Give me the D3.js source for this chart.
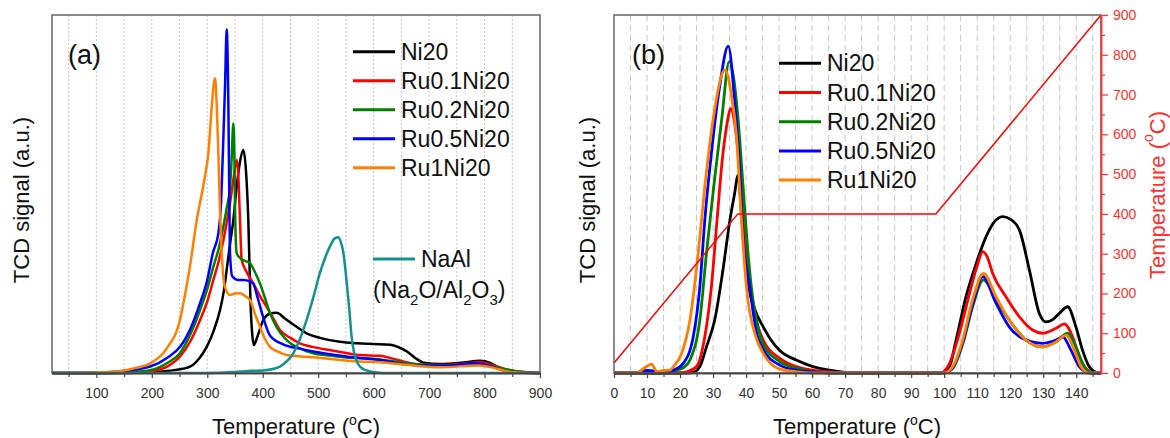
<!DOCTYPE html>
<html>
<head>
<meta charset="utf-8">
<script src="https://cdn.jsdelivr.net/npm/d3@7"></script>
<style>
  body { margin: 0; background: #fff; }
  text { font-family: "Liberation Sans", Arial, sans-serif; }
</style>
</head>
<body>
<script>
// ---- data ----
let seriesNames = ["Ni20", "Ru0.1Ni20", "Ru0.2Ni20", "Ru0.5Ni20", "Ru1Ni20"];
let naAlName = "NaAl";

// panel (a): [temperature degC, TCD signal a.u.]
let ni20A = [[20,0],[150,0],[200,0.3],[240,0.8],[269,1.8],[285,4],[299,7.3],[312,12],[323,17.6],[330,23],[335,28.8],[341,36],[347,42.7],[353,52],[359,59],[365,62.3],[370,56],[374,42.7],[378,19.5],[381,11],[384,7.8],[390,10],[401,14.8],[412,16.5],[425,16.8],[440,15.2],[461,12.9],[480,11],[503,9.8],[539,8.7],[570,8.3],[599,8.1],[630,7.9],[645,7.2],[660,6],[675,4.2],[690,2.9],[720,2.5],[762,2.9],[792,3.4],[810,2.8],[822,1.8],[851,0.5],[880,0.1],[900,0]];
let ru01A = [[20,0],[120,0],[160,0.2],[197,0.5],[230,2],[251,4.6],[270,9],[287,14.8],[300,20],[311,26],[321,31.5],[329,37],[335,42],[341,47.4],[347,54],[353,59.5],[356,55],[359,42.7],[362,31.6],[370,28.5],[383,25],[395,21.5],[407,18.5],[420,15],[431,12],[450,9.8],[467,8.3],[490,7.3],[521,6.4],[550,5.6],[575,5],[611,4.8],[640,3.8],[671,2.6],[696,2.2],[730,2.2],[760,2.6],[792,3.0],[815,2.2],[840,1],[870,0.3],[900,0]];
let ru02A = [[20,0],[120,0],[160,0.3],[197,0.8],[230,3],[251,5.6],[270,11],[287,17.6],[300,23.5],[311,29.7],[321,35],[329,40.9],[335,46],[341,52],[344,60],[347,69.7],[349,60],[350,47],[353,33.5],[360,32],[370,31.2],[377,30.7],[385,28.5],[395,25],[405,20.5],[413,16.8],[425,12.8],[443,9.2],[465,7],[491,5.5],[530,4.7],[575,4.1],[599,4.0],[630,3.4],[660,2.7],[700,2.2],[740,2.1],[792,2.5],[815,1.8],[840,1],[870,0.3],[900,0]];
let ru05A = [[20,0],[100,0],[150,0.6],[197,1.8],[230,4.5],[251,7.3],[270,12.5],[287,19.5],[300,26],[310,33.5],[320,39],[325,48],[328,61],[332,80],[335,96],[338,75],[340,45],[341,33.5],[345,27],[355,26],[365,26],[377,25.6],[383,25],[390,21.5],[400,16],[413,10.5],[437,8],[467,6.8],[491,6],[551,4.6],[611,3.6],[671,2.2],[732,2.0],[780,2.7],[804,2.2],[840,0.5],[870,0.1],[900,0]];
let ru1A = [[20,0],[80,0],[120,0.3],[142,0.5],[167,1.3],[197,2.7],[227,6.9],[251,15],[260,22],[269,30],[281,42.7],[290,50],[297,56],[302,61.4],[308,74.4],[314,82.3],[317,75],[320,61.4],[323,45],[326,33.5],[332,24],[341,21.8],[350,22.2],[359,22.3],[368,21.5],[377,20.4],[386,16.5],[395,12.9],[404,9.5],[413,7.3],[430,5.8],[443,5],[491,4.4],[575,3.2],[611,3.0],[660,2.3],[720,1.6],[790,2.1],[815,1.5],[840,0.5],[870,0.1],[900,0]];
let naAlA = [[20,0],[300,0],[350,0.3],[380,0.6],[400,0.7],[420,1.2],[431,1.8],[445,3.5],[455,5.5],[467,9.5],[479,14.8],[491,21],[503,27.9],[512,32],[521,35.3],[530,37.6],[536,37.9],[541,36.5],[545,34],[551,26],[556,18],[560,10.5],[565,5.5],[572,2.5],[580,1.2],[592,0.5],[610,0.1],[620,0],[900,0]];

// panel (b): [time min, TCD signal a.u.]
let ni20B = [[0,0],[22,0],[24,0.2],[26,1.8],[28,7.3],[30.5,14.8],[33,28.8],[35.1,42.7],[36.5,50],[37.6,55.3],[38.6,44.6],[40.1,28],[41.5,21],[43.2,16.5],[45.2,12.9],[47.5,9.3],[50.2,6.3],[55.2,3.6],[60.2,1.8],[65.2,0.8],[70,0.2],[75,0],[99,0],[101.6,1.8],[103.6,9.2],[106.6,21.3],[109.7,30.6],[112.7,38.1],[115,42],[117.7,43.7],[120,43],[122.8,39.9],[125.8,28.8],[128.8,16.7],[130.8,14.3],[133,15],[134.9,16.7],[137.4,18.5],[139.9,12.9],[141.9,6.4],[143.9,1.8],[146,0.2],[147.5,0]];
let ru01B = [[0,0],[20,0],[22,0.3],[25,1.8],[27.5,10.1],[29.5,24.1],[31.2,42.7],[33,61.4],[34.3,70],[35.3,73.9],[36.5,70],[37.6,61.4],[39.1,42.7],[41.1,26],[43,15],[45.2,9.2],[50.2,4.1],[55.2,1.8],[60.2,0.8],[65.2,0.3],[70,0],[99,0],[101.6,2.7],[104.6,11.1],[107.7,22.3],[110,30],[111.7,33.9],[113,32.5],[114.7,27.8],[118.7,21.3],[122.8,15.7],[126.8,12],[129.8,11.1],[133.9,12.5],[136.4,13.7],[138.9,10.1],[140.9,4.6],[143.4,0.8],[145,0],[147.5,0]];
let ru02B = [[0,0],[17,0],[19,0.8],[21,1.5],[23,3.6],[26,14.8],[28,33.4],[30.2,52],[32.6,70.7],[34.9,87],[36.3,82],[37.6,70.7],[39.1,52],[40.6,33.4],[42,21],[43.6,13],[45.2,8],[50.2,3.2],[55.2,1.3],[60.2,0.4],[65,0],[100,0],[102.6,1.3],[105.6,8],[108.6,18.5],[111.9,26],[115.7,20.4],[119.7,14.8],[124.8,9.2],[129.8,7.3],[133.9,8.7],[137.4,11.1],[139.9,7.3],[142.4,1.8],[144,0.3],[145,0],[147.5,0]];
let ru05B = [[0,0],[7,0],[8,0.5],[10,0.7],[12,0.6],[14,0.2],[16,0.3],[18,0.8],[21,2.7],[24,10.1],[26,24.1],[27.5,42.7],[29.5,61.4],[32,80],[34.6,91.3],[36.6,75.3],[38.1,56.7],[39.1,38],[41.1,24.1],[43,12],[45.2,6.5],[50.2,2.2],[55.2,0.8],[60.2,0.3],[65,0],[100,0],[102.6,1.5],[105.6,8.5],[108.6,19],[111.7,26.9],[115.7,19.5],[119.7,12.9],[124.8,9.2],[129.8,8.3],[133.9,9.2],[135.9,10.1],[138.4,6.4],[140.9,1.8],[143,0.3],[144,0],[147.5,0]];
let ru1B = [[0,0],[7,0],[9,1.3],[11.4,2.5],[13,0.4],[15,0.7],[17,0.8],[18,1.8],[20.5,5.5],[23,14.8],[25.5,33.4],[27.5,52],[30,70.7],[33.6,84.6],[35.5,78],[37.1,66],[38.6,42.7],[40.1,24.1],[43,10],[45.2,5.5],[50.2,1.1],[55.2,0.4],[60,0],[100,0],[102.6,1.8],[105.6,9.2],[108.6,20.4],[111.9,27.8],[115.7,21.3],[119.7,14.8],[124.8,9.2],[129.8,7.3],[133.9,8.7],[136.9,10.6],[139.4,6.4],[141.4,1.8],[143,0.3],[144,0],[147.5,0]];

// heating program, [time min, temperature degC]
let tempProgram = [[0,25],[37.5,400],[97.5,400],[147.5,900]];

let xTicksA = [100,200,300,400,500,600,700,800,900];
let xMinorA = [50,150,250,350,450,550,650,750,850];
let xTicksB = [0,10,20,30,40,50,60,70,80,90,100,110,120,130,140];
let xMinorB = [5,15,25,35,45,55,65,75,85,95,105,115,125,135,145];
let yTicksT = [0,100,200,300,400,500,600,700,800,900];
let yMinorT = [50,150,250,350,450,550,650,750,850];

// ---- layout / style ----
let W = 1170, H = 438;
let plotTop = 15, plotBottom = 373;
let colors = ["#000000", "#ff0000", "#008000", "#0000ff", "#ff8000"];
let teal = "#13918f";
let axisRed = "#ff3030";

let svg = d3.select("body").append("svg")
    .attr("width", W)
    .attr("height", H);

let ySig = d3.scaleLinear().domain([0, 100]).range([plotBottom, plotTop]);

function frame(x0, x1) {
  svg.append("rect")
      .attr("x", x0).attr("y", plotTop)
      .attr("width", x1 - x0).attr("height", plotBottom - plotTop)
      .attr("fill", "none")
      .attr("stroke", "#666")
      .attr("stroke-width", 1.5);
}

function grid(xScale, values, dash) {
  svg.append("g")
    .selectAll("line")
    .data(values)
    .enter().append("line")
      .attr("x1", d => xScale(d)).attr("x2", d => xScale(d))
      .attr("y1", plotTop).attr("y2", plotBottom)
      .attr("stroke", "#c8c8c8")
      .attr("stroke-width", 1)
      .attr("stroke-dasharray", dash);
}

function bottomAxis(xScale, major, minor) {
  let g = svg.append("g").attr("transform", `translate(0, ${plotBottom})`);
  g.call(d3.axisBottom(xScale).tickValues(major).tickSize(5).tickPadding(10).tickSizeOuter(0));
  g.append("g").call(d3.axisBottom(xScale).tickValues(minor).tickSize(4).tickFormat("").tickSizeOuter(0));
  g.selectAll("path.domain").attr("stroke", "#444").attr("stroke-width", 1.5);
  g.selectAll(".tick line").attr("stroke", "#444").attr("stroke-width", 1.2);
  g.selectAll("text")
      .attr("font-family", '"Liberation Sans", Arial, sans-serif')
      .attr("font-size", 14)
      .attr("fill", "#333");
}

function drawSeries(data, xScale, color, width) {
  let line = d3.line()
      .x(d => xScale(d[0]))
      .y(d => ySig(d[1]))
      .curve(d3.curveMonotoneX);
  svg.append("path")
      .datum(data)
      .attr("d", line)
      .attr("fill", "none")
      .attr("stroke", color)
      .attr("stroke-width", width)
      .attr("stroke-linejoin", "round");
}

function tempTitle(t, color) {
  t.attr("fill", color);
  t.append("tspan").text("Temperature (");
  t.append("tspan").attr("font-size", 14).attr("dy", -9).text("o");
  t.append("tspan").attr("dy", 9).text("C)");
}

function yTitle(x, y) {
  svg.append("text")
      .attr("transform", `translate(${x}, ${y}) rotate(-90)`)
      .attr("text-anchor", "middle")
      .attr("dominant-baseline", "central")
      .attr("font-size", 22)
      .attr("fill", "#111")
      .text("TCD signal (a.u.)");
}

function legend(x, y0, step) {
  seriesNames.forEach((name, i) => {
    let y = y0 + i * step;
    svg.append("line")
        .attr("x1", x).attr("x2", x + 42)
        .attr("y1", y).attr("y2", y)
        .attr("stroke", colors[i])
        .attr("stroke-width", 3);
    svg.append("text")
        .attr("x", x + 48).attr("y", y + 8)
        .attr("font-size", 23)
        .attr("fill", "#111")
        .text(name);
  });
}

// ---------------- panel (a) ----------------
let xA = d3.scaleLinear().domain([20, 900]).range([52, 540]);

grid(xA, xMinorA.concat(xTicksA.slice(0, -1)), "2,2");
[ni20A, ru01A, ru02A, ru05A, ru1A].forEach((s, i) => drawSeries(s, xA, colors[i], 2.5));
drawSeries(naAlA, xA, teal, 2.5);
frame(52, 540);
bottomAxis(xA, xTicksA, xMinorA);

svg.append("text")
    .attr("x", 68).attr("y", 64)
    .attr("font-size", 27)
    .attr("fill", "#111")
    .text("(a)");

legend(353, 51.7, 29);

svg.append("line")
    .attr("x1", 373).attr("x2", 415)
    .attr("y1", 259).attr("y2", 259)
    .attr("stroke", teal)
    .attr("stroke-width", 3);
svg.append("text")
    .attr("x", 421).attr("y", 267)
    .attr("font-size", 23)
    .attr("fill", "#111")
    .text(naAlName);
let sub = svg.append("text")
    .attr("x", 373).attr("y", 298)
    .attr("font-size", 23)
    .attr("fill", "#111");
sub.append("tspan").text("(Na");
sub.append("tspan").attr("font-size", 15).attr("dy", 7).text("2");
sub.append("tspan").attr("dy", -7).text("O/Al");
sub.append("tspan").attr("font-size", 15).attr("dy", 7).text("2");
sub.append("tspan").attr("dy", -7).text("O");
sub.append("tspan").attr("font-size", 15).attr("dy", 7).text("3");
sub.append("tspan").attr("dy", -7).text(")");

yTitle(21, 200);
svg.append("text")
    .attr("x", 296).attr("y", 434)
    .attr("text-anchor", "middle")
    .attr("font-size", 22)
    .call(tempTitle, "#111");

// ---------------- panel (b) ----------------
let xB = d3.scaleLinear().domain([0, 147.5]).range([614, 1101]);
let yT = d3.scaleLinear().domain([0, 900]).range([plotBottom, plotTop]);

grid(xB, xMinorB.concat(xTicksB.slice(1)), "6,4");
[ni20B, ru01B, ru02B, ru05B, ru1B].forEach((s, i) => drawSeries(s, xB, colors[i], 2.8));

svg.append("path")
    .datum(tempProgram)
    .attr("d", d3.line().x(d => xB(d[0])).y(d => yT(d[1])))
    .attr("fill", "none")
    .attr("stroke", "#ff0000")
    .attr("stroke-width", 1.5);

frame(614, 1101);
bottomAxis(xB, xTicksB, xMinorB);

let rAxis = svg.append("g").attr("transform", "translate(1101, 0)");
rAxis.call(d3.axisRight(yT).tickValues(yTicksT).tickSize(7).tickPadding(5).tickSizeOuter(0));
rAxis.append("g").call(d3.axisRight(yT).tickValues(yMinorT).tickSize(4).tickFormat("").tickSizeOuter(0));
rAxis.selectAll("path.domain").attr("stroke", axisRed).attr("stroke-width", 1.5);
rAxis.selectAll(".tick line").attr("stroke", axisRed).attr("stroke-width", 1.2);
rAxis.selectAll("text")
    .attr("font-family", '"Liberation Sans", Arial, sans-serif')
    .attr("font-size", 14)
    .attr("fill", axisRed);

svg.append("text")
    .attr("x", 632).attr("y", 64)
    .attr("font-size", 27)
    .attr("fill", "#111")
    .text("(b)");

legend(779, 63.3, 29.2);

yTitle(587, 200);
svg.append("text")
    .attr("x", 857).attr("y", 434)
    .attr("text-anchor", "middle")
    .attr("font-size", 22)
    .call(tempTitle, "#111");

svg.append("text")
    .attr("transform", "translate(1157, 195) rotate(-90)")
    .attr("text-anchor", "middle")
    .attr("dominant-baseline", "central")
    .attr("font-size", 22)
    .call(tempTitle, axisRed);
</script>
</body>
</html>
